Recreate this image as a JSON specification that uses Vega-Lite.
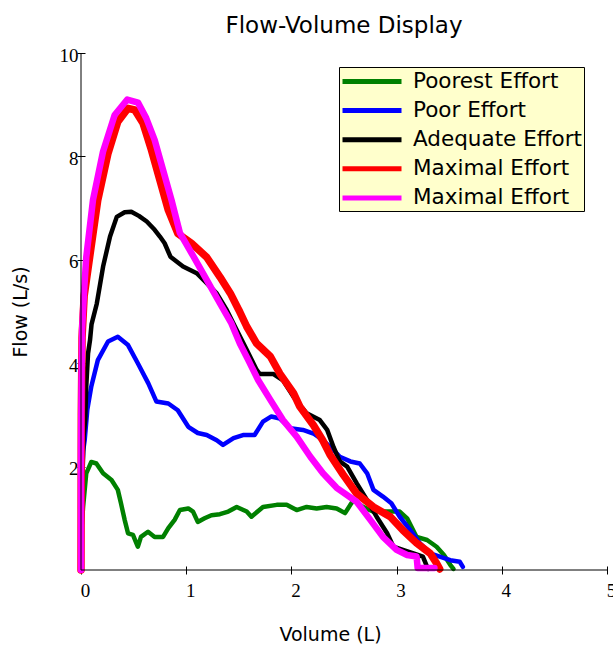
{
  "$schema": "https://vega.github.io/schema/vega-lite/v6.json",
  "width": 526,
  "height": 517,
  "autosize": {"type": "none"},
  "padding": {"left": 81, "top": 53, "right": 6, "bottom": 76},
  "background": "white",
  "title": {"text": "Flow-Volume Display", "font": "DejaVu Sans", "fontSize": 23, "fontWeight": "normal", "color": "black", "anchor": "middle", "offset": 8},
  "config": {
    "view": {"stroke": null},
    "axis": {"grid": false, "labelFont": "Liberation Serif", "labelFontSize": 19, "labelColor": "black", "tickColor": "black", "tickWidth": 1, "tickSize": 8, "offset": -4, "domain": false, "titleFont": "DejaVu Sans", "titleFontSize": 19, "titleFontWeight": "normal", "titleColor": "black", "labelFlush": false, "format": "d"},
    "line": {"strokeCap": "round", "strokeJoin": "round"}
  },
  "data": {"values": [
    {"series":"Poorest Effort","volume":0,"flow":0},{"series":"Poorest Effort","volume":0.005,"flow":0.8},{"series":"Poorest Effort","volume":0.02,"flow":1.22},{"series":"Poorest Effort","volume":0.05,"flow":1.87},{"series":"Poorest Effort","volume":0.098,"flow":2.09},{"series":"Poorest Effort","volume":0.146,"flow":2.06},{"series":"Poorest Effort","volume":0.21,"flow":1.87},{"series":"Poorest Effort","volume":0.29,"flow":1.74},{"series":"Poorest Effort","volume":0.35,"flow":1.55},{"series":"Poorest Effort","volume":0.38,"flow":1.29},{"series":"Poorest Effort","volume":0.415,"flow":0.97},{"series":"Poorest Effort","volume":0.447,"flow":0.71},{"series":"Poorest Effort","volume":0.494,"flow":0.68},{"series":"Poorest Effort","volume":0.54,"flow":0.45},{"series":"Poorest Effort","volume":0.57,"flow":0.64},{"series":"Poorest Effort","volume":0.637,"flow":0.74},{"series":"Poorest Effort","volume":0.70,"flow":0.64},{"series":"Poorest Effort","volume":0.78,"flow":0.64},{"series":"Poorest Effort","volume":0.83,"flow":0.81},{"series":"Poorest Effort","volume":0.89,"flow":0.97},{"series":"Poorest Effort","volume":0.94,"flow":1.16},{"series":"Poorest Effort","volume":1.02,"flow":1.19},{"series":"Poorest Effort","volume":1.065,"flow":1.13},{"series":"Poorest Effort","volume":1.11,"flow":0.93},{"series":"Poorest Effort","volume":1.175,"flow":1.0},{"series":"Poorest Effort","volume":1.24,"flow":1.06},{"series":"Poorest Effort","volume":1.32,"flow":1.08},{"series":"Poorest Effort","volume":1.40,"flow":1.13},{"series":"Poorest Effort","volume":1.48,"flow":1.22},{"series":"Poorest Effort","volume":1.575,"flow":1.13},{"series":"Poorest Effort","volume":1.62,"flow":1.03},{"series":"Poorest Effort","volume":1.73,"flow":1.22},{"series":"Poorest Effort","volume":1.86,"flow":1.26},{"series":"Poorest Effort","volume":1.955,"flow":1.26},{"series":"Poorest Effort","volume":2.05,"flow":1.16},{"series":"Poorest Effort","volume":2.145,"flow":1.22},{"series":"Poorest Effort","volume":2.24,"flow":1.19},{"series":"Poorest Effort","volume":2.335,"flow":1.22},{"series":"Poorest Effort","volume":2.43,"flow":1.19},{"series":"Poorest Effort","volume":2.51,"flow":1.10},{"series":"Poorest Effort","volume":2.56,"flow":1.26},{"series":"Poorest Effort","volume":2.59,"flow":1.35},{"series":"Poorest Effort","volume":2.68,"flow":1.22},{"series":"Poorest Effort","volume":2.78,"flow":1.13},{"series":"Poorest Effort","volume":2.91,"flow":1.13},{"series":"Poorest Effort","volume":3.03,"flow":1.13},{"series":"Poorest Effort","volume":3.10,"flow":1.0},{"series":"Poorest Effort","volume":3.19,"flow":0.64},{"series":"Poorest Effort","volume":3.29,"flow":0.58},{"series":"Poorest Effort","volume":3.38,"flow":0.45},{"series":"Poorest Effort","volume":3.45,"flow":0.29},{"series":"Poorest Effort","volume":3.51,"flow":0.10},{"series":"Poorest Effort","volume":3.54,"flow":0.02},
    {"series":"Poor Effort","volume":0,"flow":0},{"series":"Poor Effort","volume":0.005,"flow":1.5},{"series":"Poor Effort","volume":0.02,"flow":2.3},{"series":"Poor Effort","volume":0.035,"flow":2.51},{"series":"Poor Effort","volume":0.06,"flow":3.1},{"series":"Poor Effort","volume":0.098,"flow":3.55},{"series":"Poor Effort","volume":0.16,"flow":4.06},{"series":"Poor Effort","volume":0.257,"flow":4.42},{"series":"Poor Effort","volume":0.35,"flow":4.51},{"series":"Poor Effort","volume":0.447,"flow":4.35},{"series":"Poor Effort","volume":0.54,"flow":4.0},{"series":"Poor Effort","volume":0.64,"flow":3.61},{"series":"Poor Effort","volume":0.716,"flow":3.26},{"series":"Poor Effort","volume":0.83,"flow":3.22},{"series":"Poor Effort","volume":0.92,"flow":3.09},{"series":"Poor Effort","volume":1.02,"flow":2.77},{"series":"Poor Effort","volume":1.11,"flow":2.65},{"series":"Poor Effort","volume":1.195,"flow":2.61},{"series":"Poor Effort","volume":1.29,"flow":2.51},{"series":"Poor Effort","volume":1.35,"flow":2.42},{"series":"Poor Effort","volume":1.45,"flow":2.55},{"series":"Poor Effort","volume":1.54,"flow":2.61},{"series":"Poor Effort","volume":1.65,"flow":2.61},{"series":"Poor Effort","volume":1.73,"flow":2.87},{"series":"Poor Effort","volume":1.81,"flow":2.97},{"series":"Poor Effort","volume":1.89,"flow":2.93},{"series":"Poor Effort","volume":1.99,"flow":2.74},{"series":"Poor Effort","volume":2.11,"flow":2.71},{"series":"Poor Effort","volume":2.21,"flow":2.64},{"series":"Poor Effort","volume":2.30,"flow":2.51},{"series":"Poor Effort","volume":2.40,"flow":2.32},{"series":"Poor Effort","volume":2.46,"flow":2.19},{"series":"Poor Effort","volume":2.56,"flow":2.10},{"series":"Poor Effort","volume":2.65,"flow":2.06},{"series":"Poor Effort","volume":2.72,"flow":1.87},{"series":"Poor Effort","volume":2.78,"flow":1.55},{"series":"Poor Effort","volume":2.87,"flow":1.42},{"series":"Poor Effort","volume":2.95,"flow":1.29},{"series":"Poor Effort","volume":3.03,"flow":1.03},{"series":"Poor Effort","volume":3.13,"flow":0.77},{"series":"Poor Effort","volume":3.22,"flow":0.52},{"series":"Poor Effort","volume":3.32,"flow":0.32},{"series":"Poor Effort","volume":3.41,"flow":0.26},{"series":"Poor Effort","volume":3.51,"flow":0.19},{"series":"Poor Effort","volume":3.60,"flow":0.16},{"series":"Poor Effort","volume":3.63,"flow":0.06},
    {"series":"Adequate Effort","volume":0,"flow":0},{"series":"Adequate Effort","volume":0.01,"flow":1.5},{"series":"Adequate Effort","volume":0.025,"flow":2.6},{"series":"Adequate Effort","volume":0.04,"flow":2.9},{"series":"Adequate Effort","volume":0.05,"flow":3.55},{"series":"Adequate Effort","volume":0.067,"flow":4.19},{"series":"Adequate Effort","volume":0.086,"flow":4.45},{"series":"Adequate Effort","volume":0.10,"flow":4.75},{"series":"Adequate Effort","volume":0.15,"flow":5.15},{"series":"Adequate Effort","volume":0.21,"flow":5.87},{"series":"Adequate Effort","volume":0.276,"flow":6.45},{"series":"Adequate Effort","volume":0.34,"flow":6.83},{"series":"Adequate Effort","volume":0.415,"flow":6.92},{"series":"Adequate Effort","volume":0.478,"flow":6.93},{"series":"Adequate Effort","volume":0.55,"flow":6.85},{"series":"Adequate Effort","volume":0.625,"flow":6.74},{"series":"Adequate Effort","volume":0.70,"flow":6.58},{"series":"Adequate Effort","volume":0.75,"flow":6.45},{"series":"Adequate Effort","volume":0.795,"flow":6.32},{"series":"Adequate Effort","volume":0.85,"flow":6.06},{"series":"Adequate Effort","volume":0.97,"flow":5.87},{"series":"Adequate Effort","volume":1.10,"flow":5.74},{"series":"Adequate Effort","volume":1.195,"flow":5.55},{"series":"Adequate Effort","volume":1.29,"flow":5.35},{"series":"Adequate Effort","volume":1.385,"flow":5.03},{"series":"Adequate Effort","volume":1.48,"flow":4.64},{"series":"Adequate Effort","volume":1.575,"flow":4.26},{"series":"Adequate Effort","volume":1.67,"flow":3.87},{"series":"Adequate Effort","volume":1.70,"flow":3.79},{"series":"Adequate Effort","volume":1.83,"flow":3.79},{"series":"Adequate Effort","volume":1.92,"flow":3.67},{"series":"Adequate Effort","volume":2.02,"flow":3.35},{"series":"Adequate Effort","volume":2.145,"flow":3.03},{"series":"Adequate Effort","volume":2.27,"flow":2.90},{"series":"Adequate Effort","volume":2.34,"flow":2.71},{"series":"Adequate Effort","volume":2.40,"flow":2.38},{"series":"Adequate Effort","volume":2.46,"flow":2.1},{"series":"Adequate Effort","volume":2.53,"flow":2.0},{"series":"Adequate Effort","volume":2.62,"flow":1.68},{"series":"Adequate Effort","volume":2.72,"flow":1.35},{"series":"Adequate Effort","volume":2.81,"flow":1.03},{"series":"Adequate Effort","volume":2.91,"flow":0.71},{"series":"Adequate Effort","volume":2.97,"flow":0.45},{"series":"Adequate Effort","volume":3.06,"flow":0.39},{"series":"Adequate Effort","volume":3.16,"flow":0.32},{"series":"Adequate Effort","volume":3.25,"flow":0.26},{"series":"Adequate Effort","volume":3.29,"flow":0.06},{"series":"Adequate Effort","volume":3.30,"flow":0.02},
    {"series":"Maximal Effort 1","volume":0,"flow":0},{"series":"Maximal Effort 1","volume":0.003,"flow":3},{"series":"Maximal Effort 1","volume":0.01,"flow":4.5},{"series":"Maximal Effort 1","volume":0.03,"flow":5.3},{"series":"Maximal Effort 1","volume":0.083,"flow":6.06},{"series":"Maximal Effort 1","volume":0.16,"flow":7.16},{"series":"Maximal Effort 1","volume":0.257,"flow":8.06},{"series":"Maximal Effort 1","volume":0.35,"flow":8.67},{"series":"Maximal Effort 1","volume":0.447,"flow":8.93},{"series":"Maximal Effort 1","volume":0.51,"flow":8.90},{"series":"Maximal Effort 1","volume":0.59,"flow":8.64},{"series":"Maximal Effort 1","volume":0.67,"flow":8.12},{"series":"Maximal Effort 1","volume":0.75,"flow":7.54},{"series":"Maximal Effort 1","volume":0.83,"flow":6.96},{"series":"Maximal Effort 1","volume":0.92,"flow":6.51},{"series":"Maximal Effort 1","volume":1.05,"flow":6.32},{"series":"Maximal Effort 1","volume":1.195,"flow":6.05},{"series":"Maximal Effort 1","volume":1.32,"flow":5.67},{"series":"Maximal Effort 1","volume":1.42,"flow":5.35},{"series":"Maximal Effort 1","volume":1.50,"flow":5.03},{"series":"Maximal Effort 1","volume":1.575,"flow":4.71},{"series":"Maximal Effort 1","volume":1.67,"flow":4.38},{"series":"Maximal Effort 1","volume":1.80,"flow":4.13},{"series":"Maximal Effort 1","volume":1.89,"flow":3.80},{"series":"Maximal Effort 1","volume":2.02,"flow":3.42},{"series":"Maximal Effort 1","volume":2.08,"flow":3.16},{"series":"Maximal Effort 1","volume":2.21,"flow":2.80},{"series":"Maximal Effort 1","volume":2.30,"flow":2.50},{"series":"Maximal Effort 1","volume":2.37,"flow":2.22},{"series":"Maximal Effort 1","volume":2.49,"flow":1.85},{"series":"Maximal Effort 1","volume":2.62,"flow":1.48},{"series":"Maximal Effort 1","volume":2.78,"flow":1.22},{"series":"Maximal Effort 1","volume":2.94,"flow":1.03},{"series":"Maximal Effort 1","volume":3.06,"flow":0.77},{"series":"Maximal Effort 1","volume":3.19,"flow":0.52},{"series":"Maximal Effort 1","volume":3.32,"flow":0.32},{"series":"Maximal Effort 1","volume":3.38,"flow":0.13},{"series":"Maximal Effort 1","volume":3.41,"flow":0.02},
    {"series":"Maximal Effort 2","volume":0,"flow":0},{"series":"Maximal Effort 2","volume":0,"flow":2.32},{"series":"Maximal Effort 2","volume":0.005,"flow":3.68},{"series":"Maximal Effort 2","volume":0.01,"flow":4.64},{"series":"Maximal Effort 2","volume":0.03,"flow":5.42},{"series":"Maximal Effort 2","volume":0.05,"flow":6.05},{"series":"Maximal Effort 2","volume":0.114,"flow":7.16},{"series":"Maximal Effort 2","volume":0.209,"flow":8.09},{"series":"Maximal Effort 2","volume":0.32,"flow":8.8},{"series":"Maximal Effort 2","volume":0.44,"flow":9.1},{"series":"Maximal Effort 2","volume":0.542,"flow":9.04},{"series":"Maximal Effort 2","volume":0.62,"flow":8.74},{"series":"Maximal Effort 2","volume":0.70,"flow":8.32},{"series":"Maximal Effort 2","volume":0.78,"flow":7.74},{"series":"Maximal Effort 2","volume":0.86,"flow":7.16},{"series":"Maximal Effort 2","volume":0.94,"flow":6.52},{"series":"Maximal Effort 2","volume":1.07,"flow":6.06},{"series":"Maximal Effort 2","volume":1.195,"flow":5.61},{"series":"Maximal Effort 2","volume":1.32,"flow":5.16},{"series":"Maximal Effort 2","volume":1.43,"flow":4.77},{"series":"Maximal Effort 2","volume":1.51,"flow":4.38},{"series":"Maximal Effort 2","volume":1.59,"flow":4.06},{"series":"Maximal Effort 2","volume":1.685,"flow":3.67},{"series":"Maximal Effort 2","volume":1.80,"flow":3.29},{"series":"Maximal Effort 2","volume":1.92,"flow":2.90},{"series":"Maximal Effort 2","volume":2.05,"flow":2.58},{"series":"Maximal Effort 2","volume":2.18,"flow":2.19},{"series":"Maximal Effort 2","volume":2.30,"flow":1.87},{"series":"Maximal Effort 2","volume":2.43,"flow":1.59},{"series":"Maximal Effort 2","volume":2.62,"flow":1.32},{"series":"Maximal Effort 2","volume":2.75,"flow":0.97},{"series":"Maximal Effort 2","volume":2.87,"flow":0.64},{"series":"Maximal Effort 2","volume":3.0,"flow":0.39},{"series":"Maximal Effort 2","volume":3.10,"flow":0.29},{"series":"Maximal Effort 2","volume":3.19,"flow":0.26},{"series":"Maximal Effort 2","volume":3.20,"flow":0.04},{"series":"Maximal Effort 2","volume":3.36,"flow":0.04}
  ]},
  "layer": [
    {
      "encoding": {
        "x": {"field": "volume", "type": "quantitative", "scale": {"domain": [0, 5], "nice": false, "zero": false}, "axis": {"values": [0, 1, 2, 3, 4, 5], "title": "Volume (L)", "labelOffset": 4, "labelPadding": 7, "titlePadding": 25, "titleX": 249}},
        "y": {"field": "flow", "type": "quantitative", "scale": {"domain": [0, 10], "nice": false}, "axis": {"values": [2, 4, 6, 8, 10], "title": "Flow (L/s)", "labelOffset": 2, "labelPadding": -1, "titlePadding": 29}},
        "order": {"value": null},
        "color": {"field": "series", "type": "nominal", "scale": {"domain": ["Poorest Effort", "Poor Effort", "Adequate Effort", "Maximal Effort 1", "Maximal Effort 2"], "range": ["#008000", "#0000FF", "#000000", "#FF0000", "#FF00FF"]},
          "legend": {"title": null, "orient": "none", "legendX": 258, "legendY": 14, "fillColor": "#FFFFCC", "strokeColor": "black", "padding": 2, "symbolType": "M-1.1,0H4.8", "symbolSize": 400, "symbolStrokeWidth": 5, "labelFont": "DejaVu Sans", "labelFontSize": 21.5, "labelColor": "black", "labelOffset": 47, "labelLimit": 0, "rowPadding": 6.1, "labelExpr": "indexof(datum.label,'Maximal')==0 ? 'Maximal Effort' : datum.label"}}
      },
      "layer": [
        {"transform": [{"filter": "datum.series == 'Poorest Effort'"}], "mark": {"type": "line", "strokeWidth": 4.5}},
        {"transform": [{"filter": "datum.series == 'Poor Effort'"}], "mark": {"type": "line", "strokeWidth": 4.5}},
        {"transform": [{"filter": "datum.series == 'Adequate Effort'"}], "mark": {"type": "line", "strokeWidth": 4.5}},
        {"transform": [{"filter": "datum.series == 'Maximal Effort 1'"}], "mark": {"type": "line", "strokeWidth": 7.5}},
        {"transform": [{"filter": "datum.series == 'Maximal Effort 2'"}], "mark": {"type": "line", "strokeWidth": 6.5}}
      ]
    },
    {
      "data": {"values": [{}]},
      "mark": {"type": "rule", "color": "black", "strokeWidth": 1},
      "encoding": {"x": {"datum": 0}, "x2": {"datum": 5}, "y": {"datum": 0}}
    },
    {
      "data": {"values": [{}]},
      "mark": {"type": "rule", "color": "black", "strokeWidth": 1},
      "encoding": {"x": {"datum": 0}, "y": {"datum": 0}, "y2": {"datum": 10}}
    }
  ]
}
